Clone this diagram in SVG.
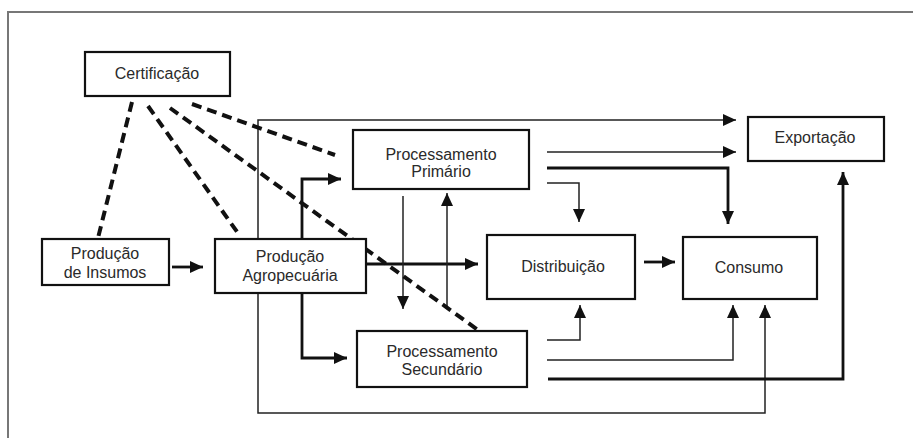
<svg xmlns="http://www.w3.org/2000/svg" width="913" height="438" viewBox="0 0 913 438">
<style>
.box{fill:#fff;stroke:#111;stroke-width:2.2}
.lbl{font-family:"Liberation Sans",Arial,sans-serif;font-size:16px;fill:#2a2a2a;text-anchor:middle}
.thick{fill:none;stroke:#111;stroke-width:2.8}
.thin{fill:none;stroke:#222;stroke-width:1.5}
.dash{fill:none;stroke:#111;stroke-width:4;stroke-dasharray:10 6}
</style>
<defs>
<marker id="ah" markerUnits="userSpaceOnUse" markerWidth="13" markerHeight="12" refX="13" refY="6" orient="auto">
<path d="M0,0 L13,6 L0,12 z" fill="#111"/>
</marker>
</defs>
<rect width="913" height="438" fill="#fff"/>
<path d="M8,438 V12 H913" fill="none" stroke="#777" stroke-width="2"/>
<g id="connectors">
<path class="thick" d="M172,267 H203" marker-end="url(#ah)"/>
<path class="thick" d="M366,264 H478" marker-end="url(#ah)"/>
<path class="thick" d="M302,239 V179 H341" marker-end="url(#ah)"/>
<path class="thick" d="M302,293 V358 H347" marker-end="url(#ah)"/>
<path class="thin" d="M258,239 V120 H736" marker-end="url(#ah)"/>
<path class="thin" d="M258,293 V413 H765 V305" marker-end="url(#ah)"/>
<path class="thin" d="M547,152 H736" marker-end="url(#ah)"/>
<path class="thick" d="M547,168 H728 V224" marker-end="url(#ah)"/>
<path class="thin" d="M547,183 H579 V222" marker-end="url(#ah)"/>
<path class="thin" d="M403,196 V309" marker-end="url(#ah)"/>
<path class="thin" d="M447,309 V193" marker-end="url(#ah)"/>
<path class="thin" d="M547,340 H580 V305" marker-end="url(#ah)"/>
<path class="thin" d="M547,360 H733 V305" marker-end="url(#ah)"/>
<path class="thick" d="M548,379 H843 V172" marker-end="url(#ah)"/>
<path class="thick" d="M644,262 H675" marker-end="url(#ah)"/>
<path class="dash" d="M132,102 L98,238"/>
<path class="dash" d="M148,106 L240,236"/>
<path class="dash" d="M170,108 L478,330"/>
<path class="dash" d="M192,104 L335,155"/>
</g>
<g id="certificacao">
<rect class="box" x="85" y="52" width="145" height="44"/>
<text class="lbl" x="157" y="79">Certificação</text>
</g>
<g id="proc-primario">
<rect class="box" x="353" y="130" width="176" height="59"/>
<text class="lbl" x="441" y="160">Processamento</text>
<text class="lbl" x="441" y="177">Primário</text>
</g>
<g id="exportacao">
<rect class="box" x="748" y="117" width="136" height="44"/>
<text class="lbl" x="815" y="143">Exportação</text>
</g>
<g id="producao-insumos">
<rect class="box" x="42" y="239" width="127" height="46"/>
<text class="lbl" x="105" y="259">Produção</text>
<text class="lbl" x="105" y="278">de Insumos</text>
</g>
<g id="producao-agropecuaria">
<rect class="box" x="215" y="239" width="151" height="54"/>
<text class="lbl" x="290" y="262">Produção</text>
<text class="lbl" x="290" y="281">Agropecuária</text>
</g>
<g id="distribuicao">
<rect class="box" x="487" y="235" width="148" height="64"/>
<text class="lbl" x="563" y="272">Distribuição</text>
</g>
<g id="consumo">
<rect class="box" x="683" y="237" width="134" height="62"/>
<text class="lbl" x="749" y="273">Consumo</text>
</g>
<g id="proc-secundario">
<rect class="box" x="357" y="331" width="170" height="56"/>
<text class="lbl" x="442" y="357">Processamento</text>
<text class="lbl" x="442" y="375">Secundário</text>
</g>
</svg>
